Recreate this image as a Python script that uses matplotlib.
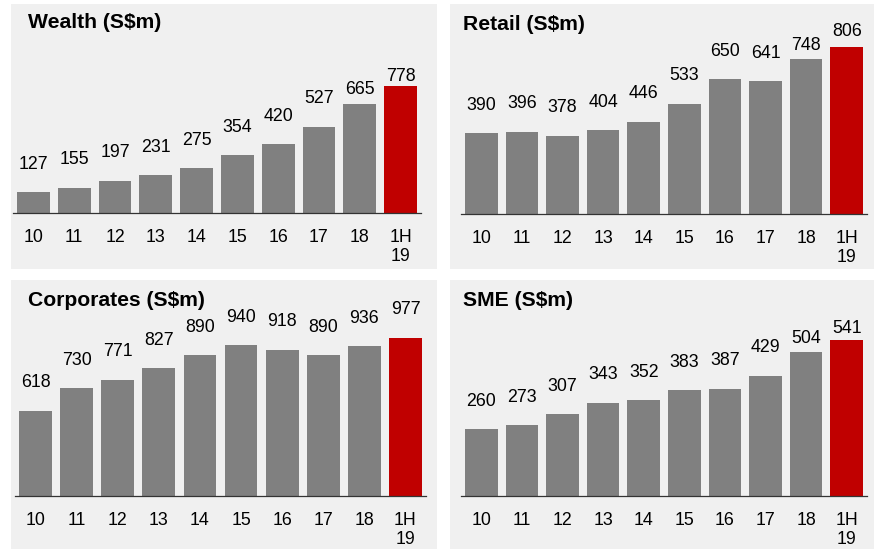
import numpy as np
import matplotlib.pyplot as plt
from matplotlib.patches import Rectangle

# data
years = ['10', '11', '12', '13', '14', '15', '16', '17', '18', '1H\n19']
wealth = [127, 155, 197, 231, 275, 354, 420, 527, 665, 778]
retail = [390, 396, 378, 404, 446, 533, 650, 641, 748, 806]
corporates = [618, 730, 771, 827, 890, 940, 918, 890, 936, 977]
sme = [260, 273, 307, 343, 352, 383, 387, 429, 504, 541]

# setting the font
plt.rcParams['font.family'] = ['Liberation Sans', 'DejaVu Sans']
plt.rcParams['font.size'] = 12.8

W, H = 874, 549
fig = plt.figure(figsize=(W / 100, H / 100), dpi=100)

grey = '#808080'
red = '#c00000'
panel_bg = '#f0f0f0'


def px_box(left, top, right, bottom):
    # pixel box (from top left) -> figure fraction [l, b, w, h]
    return [left / W, 1 - bottom / H, (right - left) / W, (bottom - top) / H]


def panel(bg, axbox, ylim, title, title_xy, values, pads):
    # light grey panel behind everything
    l, b, w, h = px_box(*bg)
    fig.add_artist(Rectangle((l, b), w, h, transform=fig.transFigure,
                             facecolor=panel_bg, edgecolor='none', zorder=-5))
    ax = fig.add_axes(px_box(*axbox))
    ax.set_facecolor('none')
    x = np.arange(len(values))
    colors = [grey] * (len(values) - 1) + [red]
    ax.bar(x, values, width=0.8, color=colors, zorder=2)
    for xi, v, p in zip(x, values, pads):
        ax.annotate(str(v), (xi, v), xytext=(0, p * 0.72),
                    textcoords='offset points', ha='center', va='center')
    ax.set_xlim(-0.5, len(values) - 0.5)
    ax.set_ylim(*ylim)
    ax.set_xticks(x)
    ax.set_xticklabels(years, linespacing=1.15)
    ax.tick_params(axis='x', length=0, pad=11.5)
    ax.set_yticks([])
    for s in ['top', 'left', 'right']:
        ax.spines[s].set_visible(False)
    ax.spines['bottom'].set_color('#333333')
    ax.spines['bottom'].set_linewidth(0.9)
    ax.spines['bottom'].set_zorder(3)
    fig.text(title_xy[0] / W, 1 - title_xy[1] / H, title, fontsize=15.2,
             fontweight='bold', ha='left', va='center')
    return ax


panel((11, 4, 437, 269), (13, 49.8, 421, 213), (0, 1000),
      'Wealth (S$m)', (28, 23), wealth, [28] * 8 + [15, 10])
panel((450, 4, 874, 269), (461, 6.8, 867, 214), (0, 1000),
      'Retail (S$m)', (463, 25), retail, [28] * 8 + [14, 15])
panel((11, 280, 437, 549), (15, 333, 426, 496), (200, 1000),
      'Corporates (S$m)', (28, 300), corporates, [28] * 10)
panel((450, 280, 874, 549), (461, 321.3, 867, 496), (50, 600),
      'SME (S$m)', (463, 300), sme, [28] * 8 + [13, 12])

plt.savefig('out.png', dpi=100)
